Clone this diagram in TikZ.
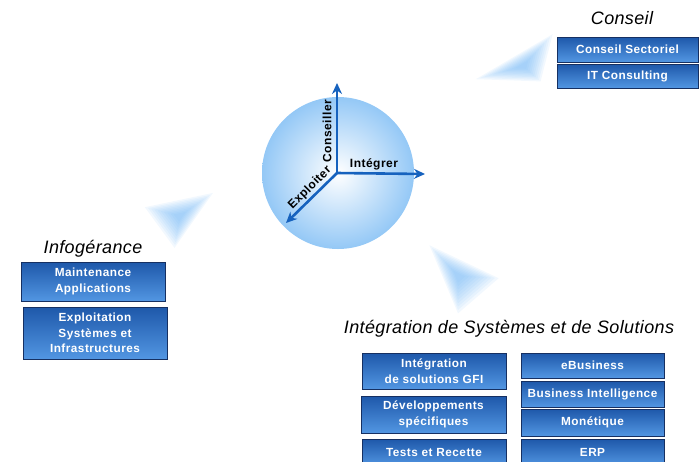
\documentclass[tikz,border=0pt]{standalone}
\usepackage{fontspec}
\setmainfont{Liberation Sans}
\newfontfamily\boxfont[LetterSpace=4]{Liberation Sans}
\newfontfamily\titlefont[LetterSpace=2]{Liberation Sans}
\usetikzlibrary{arrows.meta}

\definecolor{axisblue}{RGB}{22,98,190}
\definecolor{boxtop}{RGB}{30,88,170}
\definecolor{boxbottom}{RGB}{82,150,226}
\definecolor{boxline}{RGB}{22,48,98}
\definecolor{wedgeblue}{RGB}{105,178,245}
\definecolor{sphereblue}{RGB}{148,200,246}

\tikzset{
  offerbox/.style={draw=boxline, line width=0.8pt, top color=boxtop, bottom color=boxbottom,
    text=white, font=\boxfont\bfseries\fontsize{11.8}{15.5}\selectfont, align=center, inner sep=0pt},
  areatitle/.style={font=\titlefont\itshape\fontsize{18}{20}\selectfont, inner sep=0pt},
  axislabel/.style={font=\boxfont\bfseries\fontsize{12}{14}\selectfont, inner sep=0pt},
  axisarrow/.style={draw=axisblue, line width=2.6pt, -{Stealth[length=11pt,width=10pt]}}
}

\begin{document}
\begin{tikzpicture}[x=1pt,y=1pt,yscale=-1]
        \useasboundingbox (0,0) rectangle (700,461);
        \clip (0,0) rectangle (700,461);

        %Shape: Wedges
        \foreach \s in {1.1,1,0.9,0.8,0.7,0.6,0.5,0.4,0.3,0.2} {
          \fill[wedgeblue, opacity=0.085, scale around={\s:(523,66)}] (550,37) -- (480,78) -- (539,80) -- cycle ;
          \fill[wedgeblue, opacity=0.085, scale around={\s:(180,216)}] (210,195) -- (148,208) -- (175,245) -- cycle ;
          \fill[wedgeblue, opacity=0.085, scale around={\s:(458,276)}] (432,248) -- (495,278) -- (458,310) -- cycle ;
        }

        %Shape: Circle
        \shade[inner color=white, outer color=sphereblue] (338,173) circle (76) ;

        %Axes
        \coordinate (axo) at (337,173) ;
        \coordinate (axup) at (337,83) ;
        \coordinate (axright) at (425,174) ;
        \coordinate (axleft) at (286,223) ;
        \draw[axisarrow] (axo) -- (axup) ;
        \draw[axisarrow] (axo) -- (axright) ;
        \draw[axisarrow] (axo) -- (axleft) ;

        % Text Node
        \node[axislabel] (integrer) at (374,164) {Intégrer};
        % Text Node
        \node[axislabel, rotate=90] (conseiller) at (327,131) {Conseiller};
        % Text Node
        \node[axislabel, rotate=45] (exploiter) at (310,188) {Exploiter};

        % Text Node
        \node[areatitle] (conseil) at (622,18) {Conseil};
        \node[offerbox, minimum width=141pt, minimum height=25pt] (sectoriel) at (627.5,49.5) {Conseil Sectoriel};
        \node[offerbox, minimum width=141pt, minimum height=24pt] (itconsult) at (627.5,76) {IT Consulting};

        % Text Node
        \node[areatitle] (infog) at (93,249) {Infogérance};
        \node[offerbox, minimum width=144pt, minimum height=39pt] (maint) at (93,281.5) {Maintenance\\Applications};
        \node[offerbox, minimum width=144pt, minimum height=52pt] (exploit) at (95,333) {Exploitation\\Systèmes et\\Infrastructures};

        % Text Node
        \node[areatitle] (integ) at (509,329) {Intégration de Systèmes et de Solutions};
        \node[offerbox, minimum width=144pt, minimum height=36pt] (gfi) at (434,371) {Intégration\\de solutions GFI};
        \node[offerbox, minimum width=145pt, minimum height=37pt] (devspec) at (433.5,414.5) {Développements\\spécifiques};
        \node[offerbox, minimum width=144pt, minimum height=27pt] (tests) at (434,452.5) {Tests et Recette};
        \node[offerbox, minimum width=143pt, minimum height=25pt] (ebiz) at (592.5,365.5) {eBusiness};
        \node[offerbox, minimum width=143pt, minimum height=26pt] (bi) at (592.5,394) {Business Intelligence};
        \node[offerbox, minimum width=143pt, minimum height=27pt] (monet) at (592.5,422.5) {Monétique};
        \node[offerbox, minimum width=143pt, minimum height=27pt] (erp) at (592.5,452.5) {ERP};

\end{tikzpicture}
\end{document}
